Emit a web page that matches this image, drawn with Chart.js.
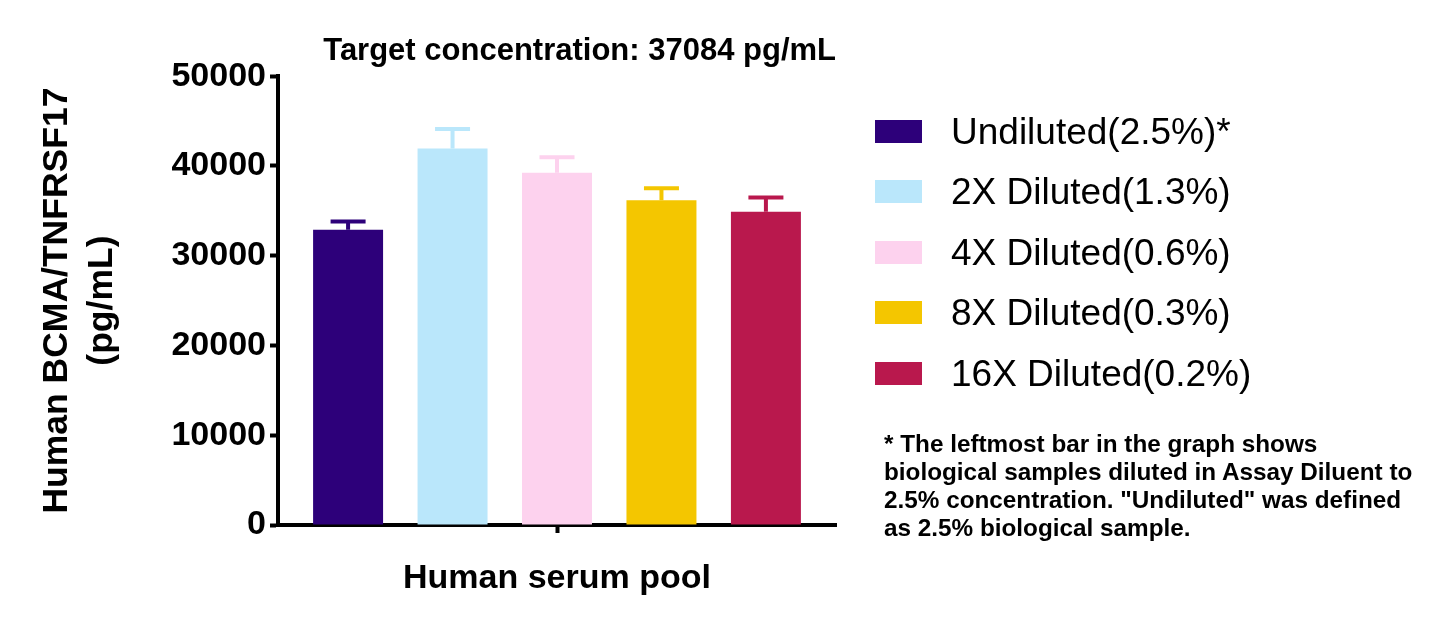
<!DOCTYPE html>
<html>
<head>
<meta charset="utf-8">
<script src="https://cdn.jsdelivr.net/npm/chart.js@4"></script>
<style>
    html, body { margin: 0; padding: 0; background: #fff; }
    body { width: 1445px; height: 625px; position: relative; overflow: hidden; font-family: "Liberation Sans", Arial, sans-serif; }
    #chart { position: absolute; left: 0; top: 0; }
    #legend { position: absolute; left: 875px; top: 101px; }
    .row { display: flex; align-items: center; height: 60.5px; }
    .swatch { width: 47px; height: 23px; margin-right: 29px; }
    .label { font-size: 37px; line-height: 37px; color: #000; white-space: nowrap; }
    #note { position: absolute; left: 884px; top: 430px; font-size: 24.3px; font-weight: bold; line-height: 28px; color: #000; white-space: nowrap; }
</style>
</head>
<body>
<canvas id="chart" width="1445" height="625"></canvas>
<div id="legend"></div>
<div id="note"></div>
<script>
const categories = ["Human serum pool"];
const seriesNames = ["Undiluted(2.5%)*", "2X Diluted(1.3%)", "4X Diluted(0.6%)", "8X Diluted(0.3%)", "16X Diluted(0.2%)"];
const means = [32900, 41950, 39230, 36190, 34890];
const errors = [900, 2170, 1730, 1320, 1610];
const barColors = ["#2d007a", "#bae7fb", "#fdd2ee", "#f4c600", "#b9184d"];
const yTicks = [0, 10000, 20000, 30000, 40000, 50000];
const noteLines = [
    "* The leftmost bar in the graph shows",
    "biological samples diluted in Assay Diluent to",
    "2.5% concentration. \"Undiluted\" was defined",
    "as 2.5% biological sample."
];

Chart.defaults.font.family = '"Liberation Sans", Arial, sans-serif';
Chart.defaults.color = "#000";

// error bars drawn on top of each bar, same colour as the bar
const errorBars = {
    id: "errorBars",
    afterDatasetsDraw(chart) {
        const ctx = chart.ctx;
        const yScale = chart.scales.y;
        chart.data.datasets.forEach((ds, i) => {
            const meta = chart.getDatasetMeta(i);
            meta.data.forEach((bar, j) => {
                const top = yScale.getPixelForValue(ds.data[j] + ds.errors[j]);
                ctx.save();
                ctx.strokeStyle = ds.backgroundColor;
                ctx.lineWidth = 4;
                ctx.lineCap = "butt";
                ctx.beginPath();
                ctx.moveTo(bar.x, bar.y);
                ctx.lineTo(bar.x, top);
                ctx.moveTo(bar.x - 17.5, top);
                ctx.lineTo(bar.x + 17.5, top);
                ctx.stroke();
                ctx.restore();
            });
        });
    }
};

function displayChart() {
    const datasets = seriesNames.map((name, i) => ({
        label: name,
        data: [means[i]],
        errors: [errors[i]],
        backgroundColor: barColors[i],
        barPercentage: 0.67,
        categoryPercentage: 0.936
    }));

    const config = {
        type: "bar",
        data: { labels: categories, datasets: datasets },
        options: {
            responsive: false,
            animation: false,
            layout: { padding: { left: 0, right: 609, top: 0, bottom: 0 } },
            plugins: {
                legend: { display: false },
                tooltip: { enabled: false },
                title: {
                    display: true,
                    text: "Target concentration: 37084 pg/mL",
                    align: "end",
                    color: "#000",
                    font: { size: 31, weight: "bold" },
                    padding: { top: 33, bottom: 6 }
                }
            },
            scales: {
                x: {
                    ticks: { color: "#000", font: { size: 34, weight: "bold" }, padding: 25 },
                    grid: { drawOnChartArea: false, offset: false, tickLength: 8, tickWidth: 4, tickColor: "#000" },
                    border: { color: "#000", width: 4 },
                    afterFit(scale) { scale.height = 100; }
                },
                y: {
                    min: 0,
                    max: 50000,
                    afterBuildTicks(scale) { scale.ticks = yTicks.map(v => ({ value: v })); },
                    ticks: { color: "#000", font: { size: 34, weight: "bold" }, padding: 4, callback: v => String(v) },
                    grid: { drawOnChartArea: false, tickLength: 8, tickWidth: 4, tickColor: "#000" },
                    border: { color: "#000", width: 4 },
                    title: {
                        display: true,
                        text: ["Human BCMA/TNFRSF17", "(pg/mL)"],
                        color: "#000",
                        font: { size: 35.5, weight: "bold", lineHeight: 1.27 },
                        padding: { top: 35, bottom: 0 }
                    },
                    afterFit(scale) { scale.width = 278; }
                }
            }
        },
        plugins: [errorBars]
    };
    new Chart(document.getElementById("chart"), config);
}
displayChart();

function displayLegend() {
    const legend = document.getElementById("legend");
    seriesNames.forEach((name, i) => {
        legend.innerHTML += `<div class="row"><div class="swatch" style="background:${barColors[i]}"></div><div class="label">${name}</div></div>`;
    });
    document.getElementById("note").innerHTML = noteLines.join("<br>");
}
displayLegend();
</script>
</body>
</html>
